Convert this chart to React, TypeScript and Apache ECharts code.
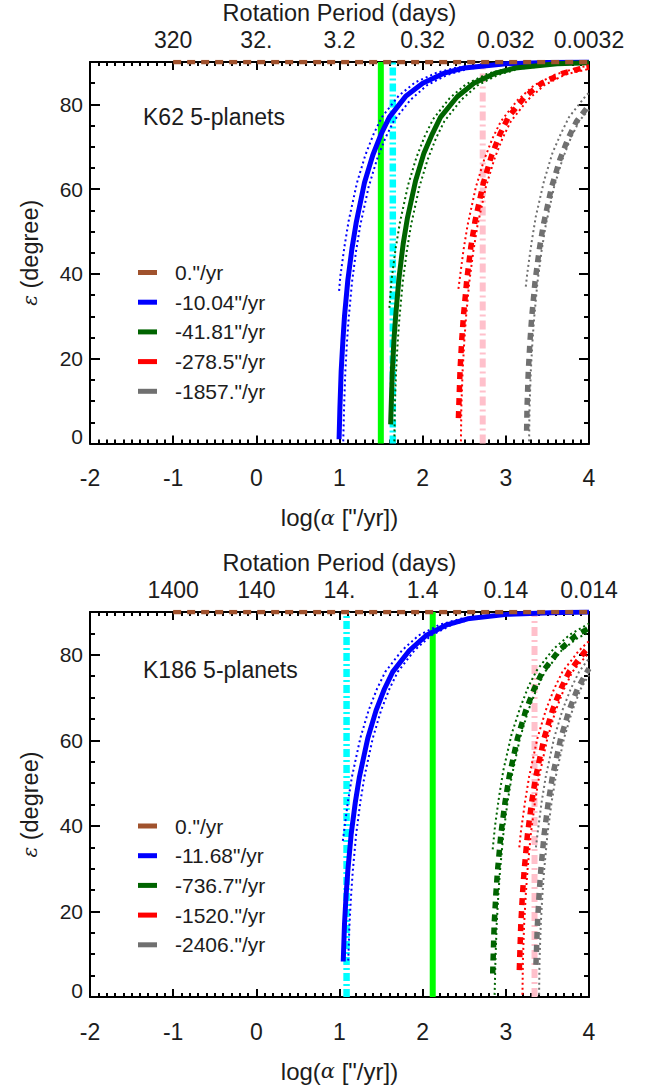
import React, { useEffect, useRef } from "react";
import * as echarts from "echarts";

// ---- axes ----
const logAlphaTicks = [-2, -1, 0, 1, 2, 3, 4];
const k62PeriodLabels = ["", "320", "32.", "3.2", "0.32", "0.032", "0.0032"];
const k186PeriodLabels = ["", "1400", "140", "14.", "1.4", "0.14", "0.014"];
const obliquityMajor = [0, 20, 40, 60, 80];
const obliquityMinor = [5, 10, 15, 25, 30, 35, 45, 50, 55, 65, 70, 75, 85];

// ---- legend entries (nodal precession rates) ----
const k62Rates = ['0."/yr', '-10.04"/yr', '-41.81"/yr', '-278.5"/yr', '-1857."/yr'];
const k186Rates = ['0."/yr', '-11.68"/yr', '-736.7"/yr', '-1520."/yr', '-2406."/yr'];

// ---- vertical reference lines, log(alpha) ----
const k62Markers = { lime: 1.497, cyan: 1.641, pink: 2.722 };
const k186Markers = { lime: 2.121, cyan: 1.085, pink: 3.345 };

// ---- K62: obliquity (deg) vs log(alpha) ----
const k62Flat = [[-1, 90], [4, 90]];
const k62Blue = [[0.995, 1], [1.005, 8.5], [1.02, 17], [1.04, 24], [1.06, 30], [1.1, 38.5], [1.15, 46], [1.2, 52], [1.3, 61.5], [1.4, 68], [1.5, 73], [1.6, 77], [1.8, 82], [2.0, 85], [2.25, 87.3], [2.5, 88.6], [3.0, 89.6], [3.5, 89.9], [4.0, 90]];
const k62BlueUpper = [[0.995, 36], [1.01, 39.5], [1.06, 46.5], [1.11, 52.5], [1.21, 61.5], [1.31, 68], [1.41, 73], [1.51, 77], [1.71, 82], [1.91, 85.2], [2.16, 87.4], [2.41, 88.7], [2.91, 89.6], [3.5, 89.9], [4.0, 90]];
const k62BlueLower = [[1.045, 0.5], [1.055, 8.5], [1.07, 17], [1.09, 24], [1.11, 29.5], [1.15, 38], [1.2, 45.5], [1.25, 51.5], [1.35, 60.5], [1.45, 67], [1.55, 72], [1.65, 76], [1.85, 81], [2.05, 84.5], [2.3, 87], [2.55, 88.4], [3.05, 89.5], [3.55, 89.85], [4.0, 90]];
const k62Green = [[1.615, 4.5], [1.635, 17], [1.655, 24.5], [1.675, 30], [1.715, 39], [1.765, 47], [1.815, 53], [1.915, 62], [2.015, 68.5], [2.115, 73], [2.215, 77], [2.415, 81.8], [2.615, 85], [2.865, 87.3], [3.115, 88.6], [3.615, 89.6], [4.0, 89.85]];
const k62GreenUpper = [[1.6, 32], [1.625, 38.5], [1.675, 46], [1.725, 52], [1.825, 61], [1.925, 67.5], [2.025, 72.5], [2.125, 76.5], [2.325, 81.5], [2.525, 84.8], [2.775, 87.2], [3.025, 88.5], [3.525, 89.55], [4.0, 89.9]];
const k62GreenLower = [[1.66, 0.5], [1.665, 8.5], [1.68, 17], [1.7, 24], [1.72, 29.5], [1.76, 38], [1.81, 45.5], [1.86, 51.5], [1.96, 60.5], [2.06, 67], [2.16, 72], [2.26, 76], [2.46, 81], [2.66, 84.5], [2.91, 87], [3.16, 88.4], [3.66, 89.5], [4.0, 89.75]];
const k62Red = [[2.43, 6], [2.45, 17.5], [2.47, 24.5], [2.49, 30], [2.53, 38.5], [2.58, 46.5], [2.63, 52.5], [2.73, 61.5], [2.83, 68], [2.93, 73], [3.03, 77], [3.23, 81.8], [3.43, 85], [3.68, 87.3], [3.93, 88.6], [4.0, 88.8]];
const k62RedUpper = [[2.43, 36.5], [2.44, 38], [2.49, 45.5], [2.54, 51.5], [2.64, 60.5], [2.74, 67], [2.84, 72], [2.94, 76], [3.14, 81], [3.34, 84.5], [3.59, 87], [3.84, 88.5], [4.0, 89.2]];
const k62RedLower = [[2.46, 0.5], [2.465, 8.5], [2.48, 17], [2.5, 24], [2.52, 29.5], [2.56, 38], [2.61, 45.5], [2.66, 51.5], [2.76, 60.5], [2.86, 67], [2.96, 72], [3.06, 76], [3.26, 81], [3.46, 84.5], [3.71, 87], [3.96, 88.2], [4.0, 88.3]];
const k62Gray = [[3.25, 3], [3.255, 8.5], [3.27, 17], [3.29, 24], [3.31, 29.5], [3.35, 38], [3.4, 45.5], [3.45, 51.5], [3.55, 60.5], [3.65, 67], [3.75, 72], [3.85, 76], [4.0, 79.8]];
const k62GrayUpper = [[3.24, 37], [3.26, 40.5], [3.31, 47.5], [3.36, 53.5], [3.46, 62], [3.56, 68.5], [3.66, 73], [3.76, 77], [3.96, 82], [4.0, 82.7]];
const k62GrayLower = [[3.28, 0.5], [3.285, 8.5], [3.3, 17], [3.32, 24], [3.34, 29.5], [3.38, 38], [3.43, 45.5], [3.48, 51.5], [3.58, 60.5], [3.68, 67], [3.78, 72], [3.88, 76], [4.0, 78.8]];

// ---- K186: obliquity (deg) vs log(alpha) ----
const k186Flat = [[-1, 90], [4, 90]];
const k186Blue = [[1.045, 8.3], [1.06, 17], [1.08, 24], [1.1, 29.5], [1.14, 38], [1.19, 45.5], [1.24, 51.5], [1.34, 60.5], [1.44, 67], [1.54, 72], [1.64, 76], [1.84, 81], [2.04, 84.5], [2.29, 87], [2.54, 88.4], [3.04, 89.5], [3.54, 89.85], [4.0, 90]];
const k186BlueUpper = [[1.04, 36.5], [1.05, 38], [1.1, 45.5], [1.15, 51.5], [1.25, 60.5], [1.35, 67], [1.45, 72], [1.55, 76], [1.75, 81], [1.95, 84.5], [2.2, 87], [2.45, 88.4], [2.95, 89.5], [3.45, 89.85], [4.0, 90]];
const k186BlueLower = [[1.105, 8.5], [1.12, 17], [1.14, 24], [1.16, 29.5], [1.2, 38], [1.25, 45.5], [1.3, 51.5], [1.4, 60.5], [1.5, 67], [1.6, 72], [1.7, 76], [1.9, 81], [2.1, 84.5], [2.35, 87], [2.6, 88.4], [3.1, 89.5], [3.6, 89.85], [4.0, 90]];
const k186Green = [[2.842, 5.5], [2.86, 17], [2.88, 24], [2.9, 29.5], [2.94, 38], [2.99, 45.5], [3.04, 51.5], [3.14, 60.5], [3.24, 67], [3.34, 72], [3.44, 76], [3.64, 81], [3.84, 84.5], [4.0, 86.2]];
const k186GreenUpper = [[2.842, 34.5], [2.87, 40], [2.92, 47], [2.97, 53], [3.07, 61.5], [3.17, 67.5], [3.27, 72.5], [3.37, 76.3], [3.57, 81.3], [3.77, 84.7], [4.0, 87.3]];
const k186GreenLower = [[2.865, 0.5], [2.875, 8.5], [2.89, 17], [2.91, 24], [2.93, 29.5], [2.97, 38], [3.02, 45.5], [3.07, 51.5], [3.17, 60.5], [3.27, 67], [3.37, 72], [3.47, 76], [3.67, 81], [3.87, 84], [4.0, 85.2]];
const k186Red = [[3.162, 6.3], [3.18, 17], [3.2, 24], [3.22, 29.5], [3.26, 38], [3.31, 45.5], [3.36, 51.5], [3.46, 60.5], [3.56, 67], [3.66, 72], [3.76, 76], [3.96, 81], [4.0, 81.8]];
const k186RedUpper = [[3.162, 35], [3.18, 38.5], [3.23, 45.5], [3.28, 51.5], [3.38, 60.5], [3.48, 67], [3.58, 72], [3.68, 76], [3.88, 81], [4.0, 83.2]];
const k186RedLower = [[3.2, 0.5], [3.205, 8.5], [3.22, 17], [3.24, 24], [3.26, 29.5], [3.3, 38], [3.35, 45.5], [3.4, 51.5], [3.5, 60.5], [3.6, 67], [3.7, 72], [3.8, 76], [4.0, 80.5]];
const k186Gray = [[3.362, 7.5], [3.38, 17], [3.4, 24], [3.42, 29.5], [3.46, 38], [3.51, 45.5], [3.56, 51.5], [3.66, 60.5], [3.76, 67], [3.86, 72], [3.96, 75.5], [4.0, 76.8]];
const k186GrayUpper = [[3.362, 35], [3.38, 38], [3.43, 45.5], [3.48, 51.5], [3.58, 60.5], [3.68, 67], [3.78, 72], [3.88, 76], [4.0, 79.2]];
const k186GrayLower = [[3.4, 0.5], [3.405, 8.5], [3.42, 17], [3.44, 24], [3.46, 29.5], [3.5, 38], [3.55, 45.5], [3.6, 51.5], [3.7, 60.5], [3.8, 67], [3.9, 72], [4.0, 75.3]];

// ---- styling ----
const FONT = "'Liberation Sans', Arial, Helvetica, sans-serif";
const GREEK = "'DejaVu Serif', serif";
const INK = "#1c1c1c";
const TICK = "#000000";
const C = {
  brown: "#a0522d",
  blue: "#0000ff",
  green: "#006400",
  red: "#ff0000",
  gray: "#707070",
  lime: "#00ff00",
  cyan: "#00ffff",
  pink: "#ffc0cb",
};
const SOLID = "solid";
const DASHED = [7, 6];
const DOTTED = [2, 3];
const DASHDOT_CYAN = [8, 3, 2, 3];
const DASHDOT_PINK = [9, 4, 2, 4];

type Curve = { data: number[][]; color: string; width: number; type: any; name?: string; z: number };

function curve(data: number[][], color: string, width: number, type: any, z: number, name?: string): Curve {
  return { data, color, width, type, z, name };
}

// fresh style objects for every axis
const axisLine = () => ({ show: true, onZero: false, lineStyle: { color: "#000000", width: 2 } });
const tick = (length: number, customValues?: number[]) => {
  const t: any = { show: true, inside: true, length, lineStyle: { color: TICK, width: 2 } };
  if (customValues) t.customValues = customValues;
  return t;
};
const minor = () => ({ show: true, splitNumber: 10, length: 4, lineStyle: { color: TICK, width: 2 } });
const text = (fontSize: number) => ({ fontFamily: FONT, fontSize, color: INK });

function buildPanel(
  g: number,
  gridTop: number,
  label: string,
  periodLabels: string[],
  rates: string[],
  markers: { lime: number; cyan: number; pink: number },
  curves: Curve[]
) {
  const xAxes = [
    {
      gridIndex: g, type: "value", position: "bottom", min: -2, max: 4, interval: 1,
      axisLine: axisLine(),
      axisTick: tick(8),
      minorTick: minor(),
      splitLine: { show: false },
      axisLabel: { ...text(23), margin: 23 },
      name: 'log({a|α} ["/yr])', nameLocation: "middle", nameGap: 62,
      nameTextStyle: { ...text(24), rich: { a: { fontFamily: GREEK, fontStyle: "italic", fontSize: 21, color: INK } } },
    },
    {
      gridIndex: g, type: "value", position: "top", min: -2, max: 4, interval: 1,
      axisLine: axisLine(),
      axisTick: tick(8),
      minorTick: minor(),
      splitLine: { show: false },
      axisLabel: {
        ...text(23), margin: 11,
        formatter: (v: number) => periodLabels[logAlphaTicks.indexOf(Math.round(v))] ?? "",
      },
      name: "Rotation Period (days)", nameLocation: "middle", nameGap: 37,
      nameTextStyle: text(23.5),
    },
  ];

  const yAxes = [
    {
      gridIndex: g, type: "value", min: 0, max: 90, position: "left",
      axisLine: axisLine(),
      axisTick: tick(10, obliquityMajor),
      splitLine: { show: false },
      axisLabel: {
        ...text(21), margin: 7, customValues: obliquityMajor,
        formatter: (v: number) => (v === 0 ? "{z|0}" : String(v)),
        rich: { z: { ...text(21), padding: [0, 0, 14, 0] } },
      },
      name: "{e|ε} (degree)", nameLocation: "middle", nameGap: 48, nameRotate: 90,
      nameTextStyle: { ...text(23.5), rich: { e: { fontFamily: GREEK, fontStyle: "italic", fontSize: 20, color: INK } } },
    },
    {
      gridIndex: g, type: "value", min: 0, max: 90, position: "left",
      axisLine: { show: false, onZero: false },
      axisTick: tick(5, obliquityMinor),
      axisLabel: { show: false },
      splitLine: { show: false },
    },
    {
      gridIndex: g, type: "value", min: 0, max: 90, position: "right",
      axisLine: axisLine(),
      axisTick: tick(10, obliquityMajor),
      axisLabel: { show: false },
      splitLine: { show: false },
    },
    {
      gridIndex: g, type: "value", min: 0, max: 90, position: "right",
      axisLine: { show: false, onZero: false },
      axisTick: tick(5, obliquityMinor),
      axisLabel: { show: false },
      splitLine: { show: false },
    },
  ];

  const asSeries = (c: Curve) => ({
    type: "line",
    name: c.name,
    xAxisIndex: 2 * g,
    yAxisIndex: 4 * g,
    data: c.data,
    showSymbol: false,
    symbol: "none",
    silent: true,
    clip: true,
    color: c.color,
    z: c.z,
    lineStyle: { color: c.color, width: c.width, type: c.type, cap: "butt", join: "round" },
  });

  const vertical = (x: number, color: string, width: number, type: any) =>
    curve([[x, 0], [x, 90]], color, width, type, 1);

  const series = [
    vertical(markers.lime, C.lime, 6, SOLID),
    vertical(markers.cyan, C.cyan, 6.5, DASHDOT_CYAN),
    vertical(markers.pink, C.pink, 6, DASHDOT_PINK),
    ...curves,
  ].map(asSeries);

  const legend = {
    data: rates,
    orient: "vertical",
    left: 138,
    top: gridTop + 203.5,
    padding: 0,
    icon: "rect",
    itemWidth: 19,
    itemHeight: 5,
    itemGap: 8.7,
    selectedMode: false,
    textStyle: { ...text(21), lineHeight: 21, padding: [0, 0, 0, 13] },
  };

  const graphic = {
    type: "text",
    x: 143,
    y: gridTop + 58,
    style: { text: label, font: `23px ${FONT}`, fill: INK, verticalAlign: "middle" },
  };

  return { xAxes, yAxes, series, legend, graphic };
}

export default function App() {
  const ref = useRef<HTMLDivElement>(null);

  useEffect(() => {
    if (!ref.current) return;
    const chart = echarts.init(ref.current, undefined, { renderer: "svg" });

    const top = buildPanel(0, 58.5, "K62 5-planets", k62PeriodLabels, k62Rates, k62Markers, [
      curve(k62BlueUpper, C.blue, 2, DOTTED, 2),
      curve(k62BlueLower, C.blue, 2, DOTTED, 2),
      curve(k62GreenUpper, C.green, 2, DOTTED, 2),
      curve(k62GreenLower, C.green, 2, DOTTED, 2),
      curve(k62RedUpper, C.red, 2, DOTTED, 2),
      curve(k62RedLower, C.red, 2, DOTTED, 2),
      curve(k62GrayUpper, C.gray, 2, DOTTED, 2),
      curve(k62GrayLower, C.gray, 2, DOTTED, 2),
      curve(k62Blue, C.blue, 5, SOLID, 3, k62Rates[1]),
      curve(k62Green, C.green, 5, SOLID, 3, k62Rates[2]),
      curve(k62Red, C.red, 5.5, DASHED, 3, k62Rates[3]),
      curve(k62Gray, C.gray, 5.5, DASHED, 3, k62Rates[4]),
      curve(k62Flat, C.brown, 4.5, [8, 6], 4, k62Rates[0]),
    ]);

    const bottom = buildPanel(1, 612, "K186 5-planets", k186PeriodLabels, k186Rates, k186Markers, [
      curve(k186BlueUpper, C.blue, 2, DOTTED, 2),
      curve(k186BlueLower, C.blue, 2, DOTTED, 2),
      curve(k186GreenUpper, C.green, 2, DOTTED, 2),
      curve(k186GreenLower, C.green, 2, DOTTED, 2),
      curve(k186RedUpper, C.red, 2, DOTTED, 2),
      curve(k186RedLower, C.red, 2, DOTTED, 2),
      curve(k186GrayUpper, C.gray, 2, DOTTED, 2),
      curve(k186GrayLower, C.gray, 2, DOTTED, 2),
      curve(k186Blue, C.blue, 5, SOLID, 3, k186Rates[1]),
      curve(k186Green, C.green, 5.5, DASHED, 3, k186Rates[2]),
      curve(k186Red, C.red, 5.5, DASHED, 3, k186Rates[3]),
      curve(k186Gray, C.gray, 5.5, DASHED, 3, k186Rates[4]),
      curve(k186Flat, C.brown, 4.5, [8, 6], 4, k186Rates[0]),
    ]);

    chart.setOption({
      animation: false,
      backgroundColor: "#ffffff",
      textStyle: { fontFamily: FONT },
      grid: [
        { left: 90, top: 58.5, width: 499, height: 385 },
        { left: 90, top: 612, width: 499, height: 385 },
      ],
      xAxis: [...top.xAxes, ...bottom.xAxes],
      yAxis: [...top.yAxes, ...bottom.yAxes],
      legend: [top.legend, bottom.legend],
      graphic: [top.graphic, bottom.graphic],
      series: [...top.series, ...bottom.series],
    });

    return () => chart.dispose();
  }, []);

  return (
    <div
      ref={ref}
      style={{ position: "absolute", left: 0, top: 0, width: 655, height: 1086, background: "#fff" }}
    />
  );
}
